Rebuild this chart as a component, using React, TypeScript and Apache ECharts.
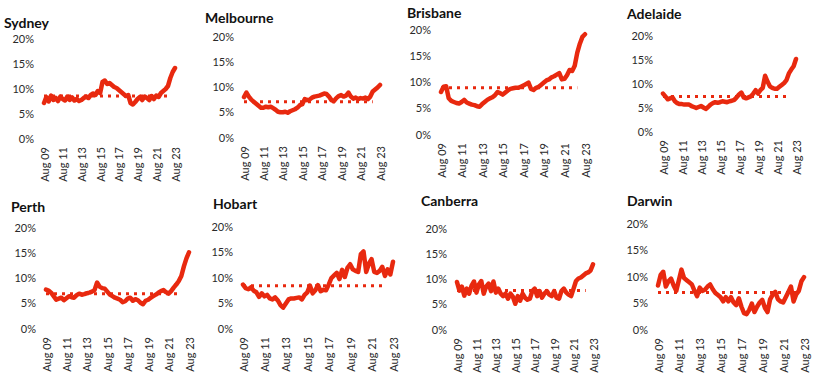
import React, { useEffect, useRef } from "react";
import * as echarts from "echarts";

const years = ["09", "10", "11", "12", "13", "14", "15", "16", "17", "18", "19", "20", "21", "22", "23"];
const months = ["Aug", "Nov", "Feb", "May"];
// quarterly categories Aug 09 .. Aug 23
const categories: string[] = [];
for (let y = 0; y < years.length; y++) {
  for (let q = 0; q < 4; q++) {
    const yr = q === 0 || q === 1 ? years[y] : years[y + 1];
    if (y === years.length - 1 && q > 0) break;
    categories.push(`${months[q]} ${yr}`);
  }
}

const cities = ["Sydney", "Melbourne", "Brisbane", "Adelaide", "Perth", "Hobart", "Canberra", "Darwin"];

const sydney = [7.0, 8.2, 7.3, 8.5, 7.6, 8.0, 7.4, 8.3, 7.8, 7.5, 8.3, 7.6, 8.1, 7.5, 7.8, 7.4, 7.6, 8.0, 8.3, 8.0, 8.6, 8.9, 8.6, 9.4, 9.0, 11.2, 11.5, 10.8, 11.0, 10.6, 10.2, 10.0, 9.6, 9.2, 8.8, 8.4, 8.6, 7.0, 6.7, 7.2, 7.8, 8.2, 7.6, 8.3, 8.0, 7.6, 8.4, 7.8, 8.5, 8.2, 9.0, 9.4, 9.8, 10.4, 12.0, 13.2, 14.0];
const melbourne = [7.9, 8.8, 8.0, 7.4, 7.0, 6.6, 6.2, 5.8, 5.8, 6.0, 5.9, 6.0, 5.7, 5.4, 5.0, 4.9, 4.9, 5.0, 4.8, 5.1, 5.3, 5.5, 5.8, 6.3, 6.5, 7.5, 7.3, 7.4, 7.8, 8.0, 8.1, 8.2, 8.4, 8.6, 8.5, 8.0, 7.3, 7.1, 7.7, 8.1, 8.3, 8.0, 8.2, 8.8, 8.0, 7.6, 7.8, 7.5, 7.7, 7.6, 7.8, 7.5, 8.0, 9.0, 9.4, 9.8, 10.3];
const brisbane = [8.0, 9.0, 9.1, 6.8, 6.3, 6.1, 5.9, 5.8, 6.1, 6.5, 6.0, 5.8, 5.6, 5.5, 5.3, 5.2, 5.7, 6.1, 6.5, 6.8, 7.0, 7.4, 8.0, 7.8, 7.5, 7.9, 8.3, 8.6, 8.7, 8.8, 8.8, 9.0, 9.2, 9.5, 9.8, 8.6, 8.4, 8.8, 9.0, 9.4, 9.8, 10.2, 10.4, 10.8, 11.0, 11.3, 11.6, 10.4, 10.5, 11.2, 12.2, 12.0, 13.0, 15.5, 17.2, 18.5, 19.0];
const adelaide = [7.8, 7.2, 6.6, 6.8, 7.0, 6.2, 5.8, 5.6, 5.6, 5.5, 5.5, 5.5, 5.2, 5.0, 4.8, 5.0, 5.2, 4.9, 4.6, 5.0, 5.5, 5.8, 6.0, 5.9, 6.0, 6.2, 6.1, 6.0, 6.2, 6.3, 6.5, 7.0, 7.6, 8.0, 7.0, 6.8, 7.0, 7.2, 7.8, 8.5, 7.8, 8.5, 9.0, 11.5, 10.3, 9.3, 9.0, 8.8, 8.8, 9.2, 9.6, 10.0, 10.6, 12.0, 12.8, 13.5, 15.0];
const perth = [7.6, 7.4, 7.0, 6.3, 5.6, 5.8, 6.0, 5.5, 5.9, 6.3, 6.1, 6.0, 6.5, 6.8, 6.6, 6.7, 6.9, 7.0, 7.2, 7.5, 9.0, 8.2, 7.9, 7.8, 7.2, 6.6, 6.3, 6.0, 5.8, 5.6, 5.1, 5.3, 5.8, 6.0, 5.4, 5.7, 5.5, 5.0, 4.7, 5.4, 5.6, 6.0, 6.3, 6.6, 7.0, 7.3, 7.5, 7.1, 6.8, 7.3, 8.0, 8.6, 9.3, 10.3, 12.2, 13.8, 15.0];
const hobart = [8.5, 7.8, 7.6, 8.0, 7.3, 7.0, 6.1, 6.8, 6.2, 6.5, 5.8, 5.6, 6.0, 5.4, 4.5, 4.0, 4.8, 5.6, 5.8, 5.8, 5.9, 6.0, 5.6, 6.5, 7.0, 8.3, 6.8, 7.4, 8.4, 7.2, 7.5, 7.4, 8.5, 9.8, 10.3, 10.8, 9.6, 11.4, 10.0, 11.8, 12.5, 11.5, 11.2, 11.0, 14.5, 15.0, 11.0, 12.6, 13.5, 11.0, 10.8, 11.2, 12.0, 10.2, 11.5, 10.5, 13.0];
const canberra = [9.3, 7.6, 8.4, 6.6, 8.0, 7.0, 8.6, 9.4, 7.2, 8.8, 9.5, 7.0, 8.4, 9.0, 7.5, 9.4, 7.2, 8.0, 7.0, 6.5, 7.0, 6.0, 7.0, 6.4, 5.0, 6.5, 5.6, 7.0, 6.2, 5.8, 6.0, 7.5, 8.0, 6.5, 7.5, 6.2, 7.0, 7.5, 6.8, 6.5, 7.5, 6.2, 6.0, 7.5, 8.0, 7.2, 6.8, 6.5, 8.0, 9.5, 10.0, 10.2, 10.6, 11.0, 11.2, 11.6, 12.8];
const darwin = [8.2, 10.2, 10.8, 8.0, 9.0, 9.5, 8.2, 7.2, 9.2, 11.2, 9.6, 9.2, 8.8, 8.4, 7.2, 6.2, 7.8, 7.2, 7.4, 8.0, 8.4, 7.5, 6.8, 6.4, 6.0, 5.2, 6.0, 5.2, 6.0, 5.0, 4.5, 5.8, 4.2, 3.0, 2.8, 3.6, 4.8, 3.2, 4.2, 5.0, 5.5, 4.0, 3.2, 5.6, 6.5, 7.0, 5.6, 5.2, 5.0, 6.0, 7.0, 8.0, 5.2, 6.5, 7.2, 9.0, 9.8];

const seriesValues = [sydney, melbourne, brisbane, adelaide, perth, hobart, canberra, darwin];
const averages = [8.4, 7.0, 8.8, 7.2, 6.8, 8.3, 7.6, 6.9];
const averageEndIndex = 53;
const yTicks = [0, 5, 10, 15, 20];

// layout (px)
const grids = [
  { left: 44, top: 38, width: 131, height: 100 },
  { left: 244, top: 36, width: 136, height: 101 },
  { left: 441, top: 29, width: 144, height: 105 },
  { left: 663, top: 35, width: 133, height: 96 },
  { left: 46, top: 227, width: 143, height: 101 },
  { left: 243, top: 226, width: 150, height: 102 },
  { left: 457, top: 228, width: 136, height: 101 },
  { left: 658, top: 223, width: 146, height: 106 },
];
const titlePos = [
  { left: 4, top: 15 },
  { left: 205, top: 10 },
  { left: 407, top: 5 },
  { left: 627, top: 6 },
  { left: 11, top: 199 },
  { left: 213, top: 196 },
  { left: 421, top: 193 },
  { left: 627, top: 193 },
];

const RED = "#E8290F";
const FONT = "Lato, 'Noto Sans', sans-serif";

export default function App() {
  const ref = useRef<HTMLDivElement>(null);
  useEffect(() => {
    document.body.style.margin = "0";
    if (!ref.current) return;
    const chart = echarts.init(ref.current, null, { renderer: "svg" });
    const option: any = {
      animation: false,
      backgroundColor: "#ffffff",
      title: cities.map((c, i) => ({
        text: c,
        left: titlePos[i].left,
        top: titlePos[i].top,
        padding: 0,
        textStyle: { fontFamily: FONT, fontSize: 14, fontWeight: "bold", color: "#111" },
      })),
      grid: grids.map((g) => ({ ...g, containLabel: false })),
      xAxis: cities.map((_, i) => ({
        type: "category",
        gridIndex: i,
        data: categories,
        boundaryGap: false,
        axisLine: { show: false },
        axisTick: { show: false },
        splitLine: { show: false },
        axisLabel: {
          interval: 7,
          rotate: 90,
          margin: 9,
          fontFamily: FONT,
          fontSize: 11,
          color: "#2a2a2a",
        },
      })),
      yAxis: cities.map((_, i) => ({
        type: "value",
        gridIndex: i,
        min: yTicks[0],
        max: yTicks[yTicks.length - 1],
        interval: 5,
        axisLine: { show: false },
        axisTick: { show: false },
        splitLine: { show: false },
        axisLabel: {
          formatter: "{value}%",
          margin: 10,
          fontFamily: FONT,
          fontSize: 11,
          color: "#2a2a2a",
        },
      })),
      series: [
        ...cities.map((c, i) => ({
          name: c + " average",
          type: "line",
          xAxisIndex: i,
          yAxisIndex: i,
          data: categories.map((_, k) => (k <= averageEndIndex ? averages[i] : null)),
          symbol: "none",
          silent: true,
          lineStyle: { color: RED, width: 3, type: [3, 5] },
          z: 1,
        })),
        ...cities.map((c, i) => ({
          name: c,
          type: "line",
          xAxisIndex: i,
          yAxisIndex: i,
          data: seriesValues[i],
          symbol: "none",
          lineStyle: { color: RED, width: 4.5, join: "round", cap: "round" },
          z: 2,
        })),
      ],
    };
    chart.setOption(option);
    return () => chart.dispose();
  }, []);
  return <div ref={ref} style={{ width: 824, height: 381 }} />;
}
